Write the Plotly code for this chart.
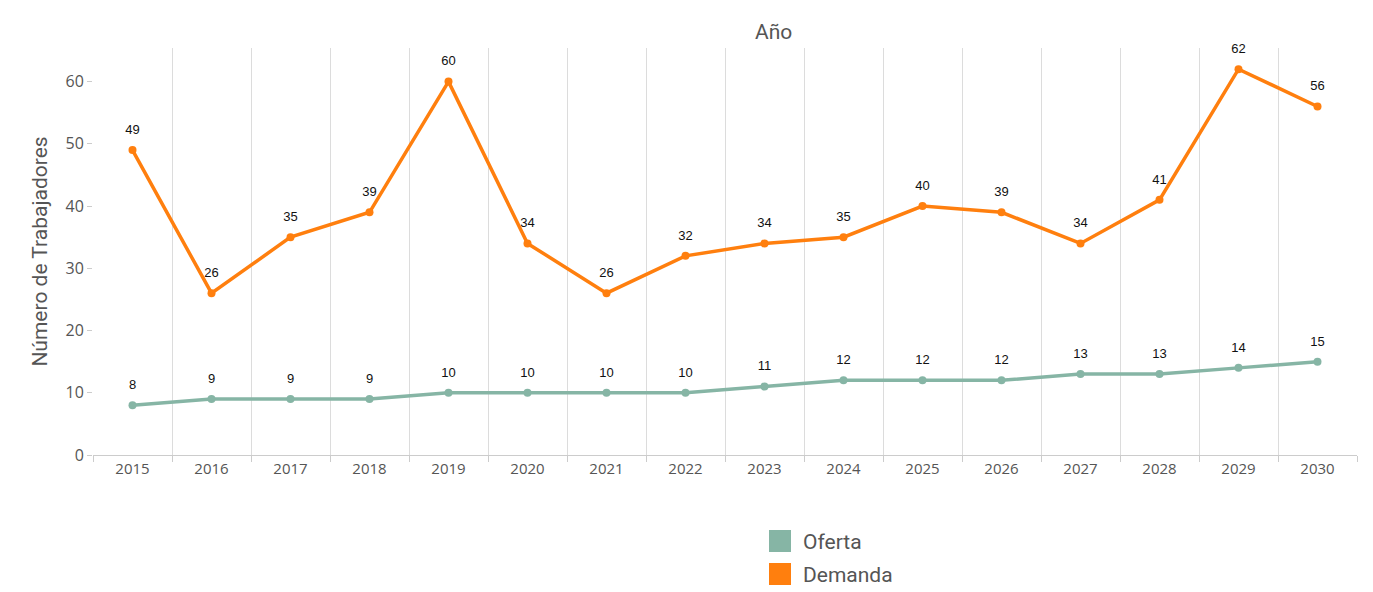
import plotly.graph_objects as go

years = [str(y) for y in range(2015, 2031)]
oferta = [8, 9, 9, 9, 10, 10, 10, 10, 11, 12, 12, 12, 13, 13, 14, 15]
demanda = [49, 26, 35, 39, 60, 34, 26, 32, 34, 35, 40, 39, 34, 41, 62, 56]
series = [("Oferta", oferta, "#86b5a5"), ("Demanda", demanda, "#ff7f0e")]

TITLE_FONT = "Roboto, Lato, sans-serif"
TICK_FONT = "Open Sans, DejaVu Sans, sans-serif"

fig = go.Figure()

for name, vals, col in series:
    fig.add_trace(go.Scatter(
        x=years, y=vals, mode="lines+markers", name=name,
        line=dict(color=col, width=3.5),
        marker=dict(color=col, size=8),
        showlegend=False,
    ))
    # value labels, lifted above the points by an invisible larger marker
    fig.add_trace(go.Scatter(
        x=years, y=vals, mode="markers+text", name=name,
        marker=dict(color="rgba(0,0,0,0)", size=19),
        text=[str(v) for v in vals], textposition="top center",
        textfont=dict(family="Arial, Liberation Sans, sans-serif", size=13, color="#111"),
        showlegend=False, cliponaxis=False, hoverinfo="skip",
    ))

# legend: square swatches with labels, below the plot
shapes, annots = [], []
for i, (name, _, col) in enumerate(series):
    y0 = 530 + 33 * i
    shapes.append(dict(type="rect", xref="paper", yref="paper",
                       x0=(769 - 93) / 1264, x1=(791 - 93) / 1264,
                       y0=(455 - (y0 + 22)) / 407, y1=(455 - y0) / 407,
                       fillcolor=col, line=dict(width=0)))
    annots.append(dict(text=name, xref="paper", yref="paper",
                       x=(801 - 93) / 1264, y=(455 - (y0 + 12)) / 407,
                       xanchor="left", yanchor="middle", showarrow=False,
                       font=dict(family=TITLE_FONT, size=21, color="#555")))

annots.append(dict(
    text="Año", xref="paper", yref="paper", x=(773 - 93) / 1264, y=(455 - 32) / 407,
    showarrow=False, yanchor="middle", xanchor="center",
    font=dict(family=TITLE_FONT, size=21, color="#555"),
))

fig.update_layout(
    width=1373, height=592,
    margin=dict(l=93, r=16, t=48, b=137, autoexpand=False),
    plot_bgcolor="white", paper_bgcolor="white",
    showlegend=False,
    shapes=shapes,
    annotations=annots,
)

fig.update_xaxes(
    type="category", range=[-0.5, 15.5],
    tickson="boundaries", ticks="outside", ticklen=6, tickcolor="#ccc",
    showgrid=True, gridcolor="#dcdcdc", gridwidth=1,
    showline=True, linecolor="#ccc", linewidth=1,
    tickfont=dict(family=TICK_FONT, size=15, color="#555"),
    zeroline=False,
)
fig.update_yaxes(
    range=[0, 65.4], tickvals=[0, 10, 20, 30, 40, 50, 60],
    showgrid=False, zeroline=False, showline=False,
    ticks="outside", ticklen=5, tickcolor="#ccc",
    tickfont=dict(family=TICK_FONT, size=16, color="#555"),
    title=dict(text="Número de Trabajadores", standoff=12,
               font=dict(family=TITLE_FONT, size=21, color="#555")),
)

fig.write_html("out.html")
